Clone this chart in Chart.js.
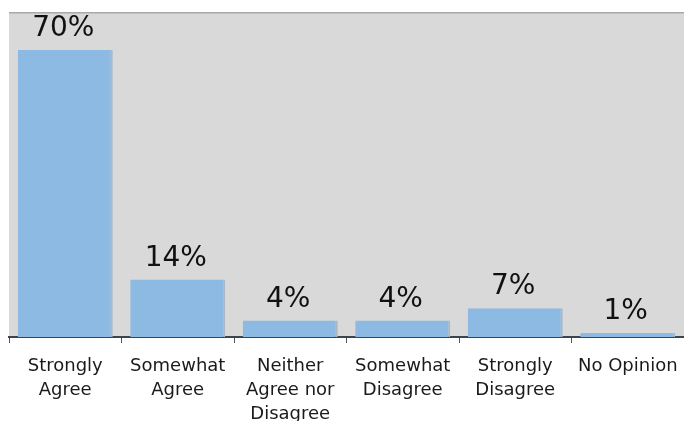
<!DOCTYPE html>
<html>
<head>
<meta charset="utf-8">
<script src="https://cdn.jsdelivr.net/npm/chart.js@4"></script>
<style>
  html, body { margin: 0; padding: 0; background: #fff; }
  #wrap { width: 684px; height: 421px; }
</style>
</head>
<body>
<div id="wrap"><canvas id="chart"></canvas></div>
<script>
// survey responses, percent of respondents
const categories = [
    ['Strongly', 'Agree'],
    ['Somewhat', 'Agree'],
    ['Neither', 'Agree nor', 'Disagree'],
    ['Somewhat', 'Disagree'],
    ['Strongly', 'Disagree'],
    ['No Opinion']
];
const percents = [70, 14, 4, 4, 7, 1];
const yMax = 79;

// grey plot background with a thin top rule
const plotBackground = {
    id: 'plotBackground',
    beforeDraw(chart) {
        const { ctx, chartArea: a } = chart;
        ctx.save();
        ctx.fillStyle = '#d9d9d9';
        ctx.fillRect(a.left, a.top, a.right - a.left, a.bottom - a.top);
        ctx.fillStyle = '#a9a9a9';
        ctx.fillRect(a.left, a.top - 1, a.right - a.left, 1.5);
        ctx.restore();
    }
};

// percentage printed above each bar
const valueLabels = {
    id: 'valueLabels',
    afterDatasetsDraw(chart) {
        const { ctx } = chart;
        const meta = chart.getDatasetMeta(0);
        ctx.save();
        ctx.font = '28px "DejaVu Sans"';
        ctx.fillStyle = '#111';
        ctx.textAlign = 'center';
        ctx.textBaseline = 'alphabetic';
        meta.data.forEach((bar, i) => {
            ctx.fillText(percents[i] + '%', bar.x - 2, bar.y - 14);
        });
        ctx.restore();
    }
};

new Chart(document.getElementById('chart'), {
    type: 'bar',
    data: {
        labels: categories,
        datasets: [{
            data: percents,
            backgroundColor: '#8dbae3',
            borderColor: '#aab8c6',
            borderWidth: { top: 0, left: 0, bottom: 0, right: 2 },
            borderSkipped: false,
            categoryPercentage: 1,
            barPercentage: 0.845
        }]
    },
    options: {
        responsive: true,
        maintainAspectRatio: false,
        animation: false,
        layout: { padding: { top: 13, left: 9, right: 0, bottom: 0 } },
        plugins: {
            legend: { display: false },
            tooltip: { enabled: false }
        },
        scales: {
            x: {
                grid: {
                    display: true,
                    offset: true,
                    drawOnChartArea: false,
                    tickLength: 6,
                    color: '#555'
                },
                border: { display: true, color: '#3c4450', width: 2 },
                ticks: {
                    autoSkip: false,
                    maxRotation: 0,
                    padding: 11,
                    color: '#1a1a1a',
                    font: { family: 'DejaVu Sans', size: 18, lineHeight: 1.333 }
                },
                afterFit(scale) {
                    scale.height = 84;
                    // labels sit inside their categories, no side inset needed
                    scale.paddingLeft = 0;
                    scale.paddingRight = 0;
                }
            },
            y: {
                display: false,
                min: 0,
                max: yMax
            }
        }
    },
    plugins: [plotBackground, valueLabels]
});
</script>
</body>
</html>
